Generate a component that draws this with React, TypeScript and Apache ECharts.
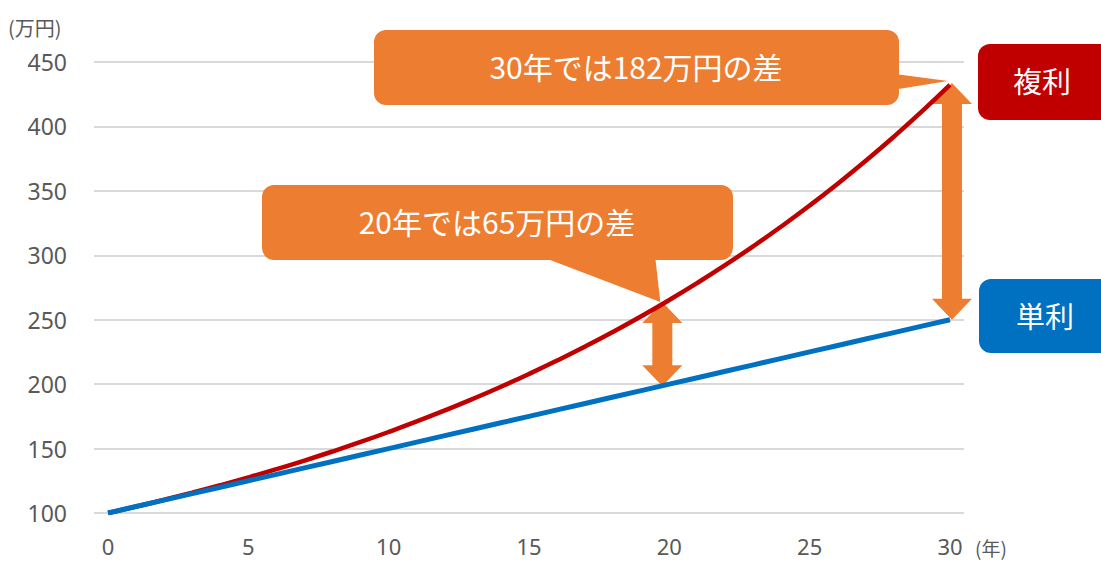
import React, { useEffect, useRef } from "react";
import * as echarts from "echarts";

const years: string[] = [
  "0","1","2","3","4","5","6","7","8","9","10","11","12","13","14","15",
  "16","17","18","19","20","21","22","23","24","25","26","27","28","29","30",
];
const compound: number[] = [
  100, 105, 110.25, 115.76, 121.55, 127.63, 134.01, 140.71, 147.75, 155.13,
  162.89, 171.03, 179.59, 188.56, 197.99, 207.89, 218.29, 229.2, 240.66, 252.7,
  265.33, 278.6, 292.53, 307.15, 322.51, 338.64, 355.57, 373.35, 392.01, 411.61, 432.19,
];
const simple: number[] = [
  100, 105, 110, 115, 120, 125, 130, 135, 140, 145, 150, 155, 160, 165, 170, 175,
  180, 185, 190, 195, 200, 205, 210, 215, 220, 225, 230, 235, 240, 245, 250,
];
const yTicks = { min: 100, max: 450, interval: 50 };
const callout20 = "20年では65万円の差";
const callout30 = "30年では182万円の差";
const labelCompound = "複利";
const labelSimple = "単利";
const yUnit = "(万円)";
const xUnit = "(年)";

const ORANGE = "#ED7D31";
const RED = "#C00000";
const BLUE = "#0070C0";
const GRAY = "#595959";
const JP = "'Noto Sans CJK JP', 'Noto Sans', sans-serif";
const NUM = "'Noto Sans', 'Open Sans', sans-serif";

function doubleArrow(cx: number, ty: number, by: number) {
  const sw = 10, hw = 20, hh = 21;
  return [
    [cx, ty], [cx + hw, ty + hh], [cx + sw, ty + hh], [cx + sw, by - hh],
    [cx + hw, by - hh], [cx, by], [cx - hw, by - hh], [cx - sw, by - hh],
    [cx - sw, ty + hh], [cx - hw, ty + hh],
  ];
}

export default function App() {
  const ref = useRef<HTMLDivElement>(null);
  useEffect(() => {
    if (!ref.current) return;
    const chart = echarts.init(ref.current, null, { renderer: "svg" });
    chart.setOption({
      animation: false,
      grid: { left: 94, right: 137, top: 62, bottom: 49, containLabel: false },
      xAxis: {
        type: "category",
        data: years,
        boundaryGap: true,
        axisLine: { show: false },
        axisTick: { show: false },
        axisLabel: { interval: 4, color: GRAY, fontSize: 22, fontFamily: NUM, margin: 21, lineHeight: 24 },
        splitLine: { show: false },
      },
      yAxis: {
        type: "value",
        min: yTicks.min,
        max: yTicks.max,
        interval: yTicks.interval,
        axisLine: { show: false },
        axisTick: { show: false },
        axisLabel: { color: GRAY, fontSize: 23, fontFamily: NUM, margin: 27 },
        splitLine: { lineStyle: { color: "#D9D9D9", width: 2 } },
      },
      series: [
        {
          type: "line", name: labelCompound, data: compound, showSymbol: false,
          smooth: true, lineStyle: { color: RED, width: 4.5 }, z: 3,
        },
        {
          type: "line", name: labelSimple, data: simple, showSymbol: false,
          lineStyle: { color: BLUE, width: 5 }, z: 4,
        },
      ],
    });

    const p = (i: number, v: number) =>
      chart.convertToPixel({ xAxisIndex: 0, yAxisIndex: 0 }, [i, v]) as number[];
    const c20 = p(20, compound[20]);
    const s20 = p(20, simple[20]);
    const c30 = p(30, compound[30]);
    const s30 = p(30, simple[30]);
    const ax20 = c20[0] - 7;
    const ax30 = c30[0] + 2;

    chart.setOption({
      graphic: [
        { type: "text", left: 8, top: 17, style: { text: yUnit, fill: GRAY, font: `20px ${JP}` } },
        { type: "text", x: 975, y: 547, style: { text: xUnit, fill: GRAY, font: `19px ${JP}`, verticalAlign: "middle" } },
        // arrows
        { type: "polygon", z: 1, shape: { points: doubleArrow(ax20, c20[1] + 2, s20[1] + 2) }, style: { fill: ORANGE } },
        { type: "polygon", z: 1, shape: { points: doubleArrow(ax30, c30[1] - 2, s30[1]) }, style: { fill: ORANGE } },
        // callout 30
        { type: "polygon", z: 1, shape: { points: [[880, 72], [c30[0] - 2, c30[1] - 4], [880, 92]] }, style: { fill: ORANGE } },
        { type: "rect", z: 1, shape: { x: 374, y: 30, width: 525, height: 75, r: 12 }, style: { fill: ORANGE } },
        { type: "text", z: 2, x: 636, y: 66, style: { text: callout30, fill: "#fff", font: `30px ${JP}`, align: "center", verticalAlign: "middle" } },
        // callout 20
        { type: "polygon", z: 1, shape: { points: [[537, 255], [ax20 - 2, c20[1] + 2], [655, 255]] }, style: { fill: ORANGE } },
        { type: "rect", z: 1, shape: { x: 262, y: 185, width: 471, height: 75, r: 12 }, style: { fill: ORANGE } },
        { type: "text", z: 2, x: 497, y: 221, style: { text: callout20, fill: "#fff", font: `30px ${JP}`, align: "center", verticalAlign: "middle" } },
        // legend boxes
        { type: "rect", z: 1, shape: { x: 978, y: 44, width: 140, height: 76, r: 12 }, style: { fill: RED } },
        { type: "text", z: 2, x: 1042, y: 80, style: { text: labelCompound, fill: "#fff", font: `29px ${JP}`, align: "center", verticalAlign: "middle" } },
        { type: "rect", z: 1, shape: { x: 979, y: 279, width: 140, height: 74, r: 12 }, style: { fill: BLUE } },
        { type: "text", z: 2, x: 1045, y: 315, style: { text: labelSimple, fill: "#fff", font: `29px ${JP}`, align: "center", verticalAlign: "middle" } },
      ],
    });
    return () => chart.dispose();
  }, []);
  return (
    <div
      ref={ref}
      style={{ position: "fixed", left: 0, top: 0, width: 1101, height: 562, background: "#fff" }}
    />
  );
}
